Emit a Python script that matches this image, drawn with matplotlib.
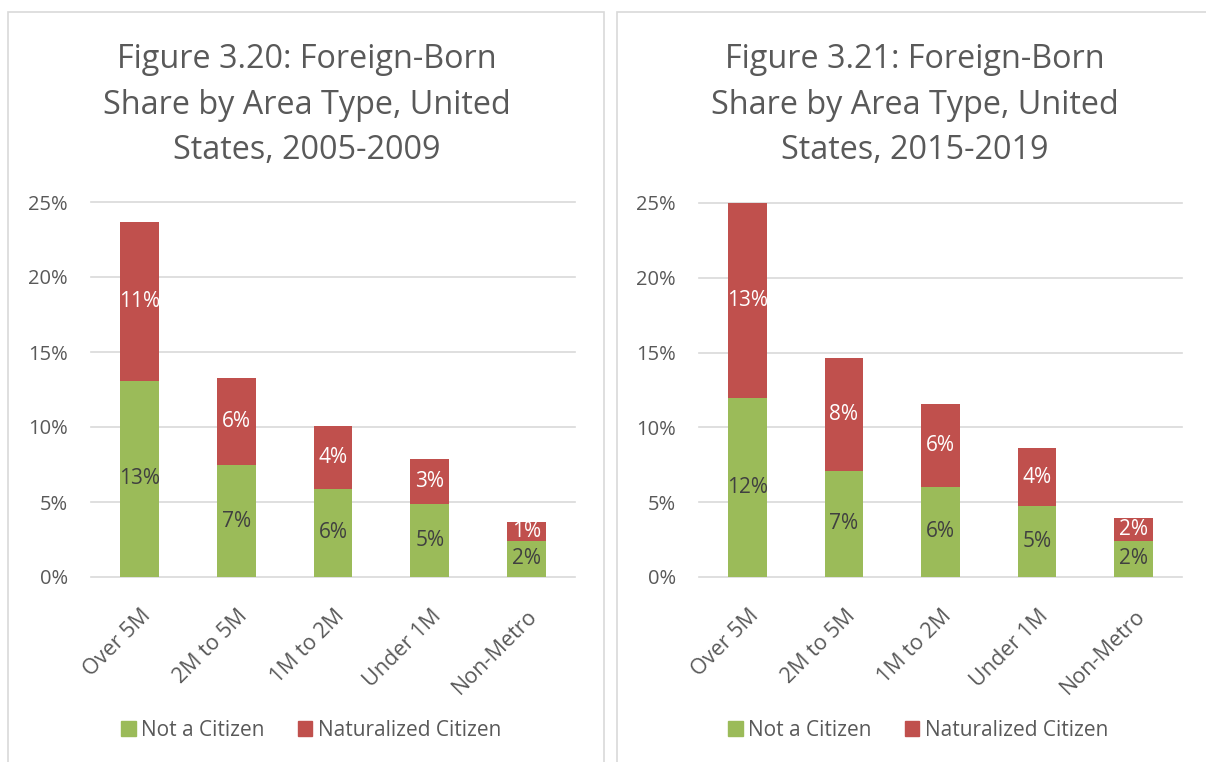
import matplotlib.pyplot as plt
from matplotlib.patches import Rectangle, Patch
from matplotlib.transforms import ScaledTranslation

plt.rcParams['font.family'] = ['Open Sans', 'DejaVu Sans']

# --- data ---
categories = ['Over 5M', '2M to 5M', '1M to 2M', 'Under 1M', 'Non-Metro']

not_citizen_0509 = [13.1, 7.45, 5.87, 4.89, 2.4]
naturalized_0509 = [10.55, 5.8, 4.22, 2.96, 1.25]

not_citizen_1519 = [11.97, 7.1, 6.02, 4.75, 2.41]
naturalized_1519 = [13.0, 7.51, 5.56, 3.85, 1.52]

titles = [
    ['Figure 3.20: Foreign-Born', 'Share by Area Type, United', 'States, 2005-2009'],
    ['Figure 3.21: Foreign-Born', 'Share by Area Type, United', 'States, 2015-2019'],
]
yticks = [0, 5, 10, 15, 20, 25]
series_names = ['Not a Citizen', 'Naturalized Citizen']

GREEN = '#9BBB59'
RED = '#C0504D'
TEXT = '#595959'
GRID = '#D9D9D9'

W, H = 1206, 762
fig = plt.figure(figsize=(W / 100, H / 100), dpi=100)


def px_box(x0, y0, x1, y1):
    # pixel box (top-left origin) -> figure fraction [l, b, w, h]
    return [x0 / W, 1 - y1 / H, (x1 - x0) / W, (y1 - y0) / H]


panels = [
    dict(frame=(8, 12, 604, 775), axes=(91, 202, 575, 577), cx=307, legx=311,
         green=not_citizen_0509, red=naturalized_0509, title=titles[0]),
    dict(frame=(617, 12, 1215, 775), axes=(699, 203, 1182, 577), cx=915, legx=918,
         green=not_citizen_1519, red=naturalized_1519, title=titles[1]),
]

for p in panels:
    # light frame around each chart
    fx0, fy0, fx1, fy1 = p['frame']
    fig.patches.append(Rectangle((fx0 / W, 1 - fy1 / H), (fx1 - fx0) / W, (fy1 - fy0) / H,
                                 transform=fig.transFigure, fill=False,
                                 edgecolor=GRID, linewidth=1.2))

    # title, one line at a time
    for k, line in enumerate(p['title']):
        fig.text(p['cx'] / W, 1 - (68 + 45.5 * k) / H, line, ha='center', va='baseline',
                 fontsize=23.3, color=TEXT)

    ax = fig.add_axes(px_box(*p['axes']))
    x = range(len(categories))
    ax.bar(x, p['green'], width=0.4, color=GREEN, zorder=2)
    ax.bar(x, p['red'], width=0.4, bottom=p['green'], color=RED, zorder=2)

    for i in x:
        g, r = p['green'][i], p['red'][i]
        ax.text(i, g / 2, f'{g:.0f}%', ha='center', va='center', fontsize=15,
                color='#404040', zorder=3)
        ax.text(i, g + r / 2, f'{r:.0f}%', ha='center', va='center', fontsize=15,
                color='white', zorder=3)

    for t in yticks:
        ax.axhline(t, color=GRID, linewidth=1.2, zorder=0, clip_on=False)

    ax.set_xlim(-0.5, len(categories) - 0.5)
    ax.set_ylim(0, 25)
    ax.set_yticks(yticks, [f'{t}%' for t in yticks])
    ax.tick_params(axis='y', length=0, pad=16.5, labelsize=14.5, labelcolor=TEXT)
    ax.set_xticks([])
    for s in ax.spines.values():
        s.set_visible(False)

    # rotated category labels
    off = ScaledTranslation(0.08, -0.36, fig.dpi_scale_trans)
    for i, c in enumerate(categories):
        ax.text(i, 0, c, transform=ax.transData + off, rotation=45, ha='right',
                va='center', rotation_mode='anchor', fontsize=15.5, color=TEXT)

    handles = [Patch(color=GREEN), Patch(color=RED)]
    fig.legend(handles, series_names, loc='center', bbox_to_anchor=(p['legx'] / W, 1 - 730 / H),
               ncol=2, frameon=False, fontsize=15, labelcolor=TEXT,
               handlelength=0.7, handleheight=0.7, handletextpad=0.25, columnspacing=1.6)

fig.savefig('out.png', dpi=100)
